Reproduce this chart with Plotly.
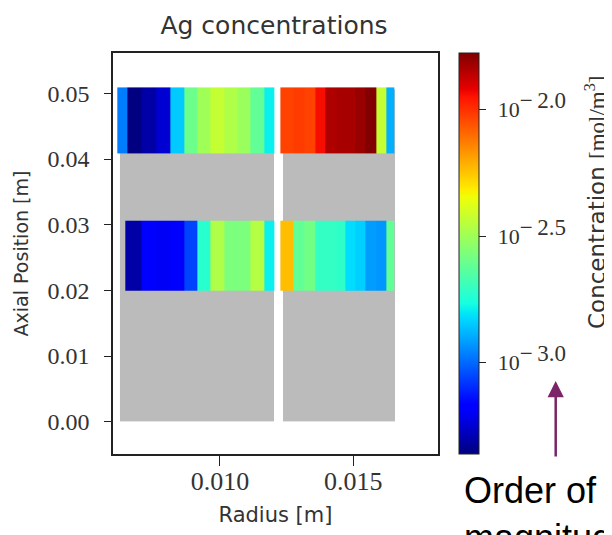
import plotly.graph_objects as go

# ---------------- data ----------------
# radial cell edges [m]
top_left_edges = [0.00615, 0.00654, 0.00706, 0.00763, 0.00815, 0.00865, 0.00915,
                  0.00965, 0.01015, 0.01065, 0.01115, 0.01165, 0.01204]
low_left_edges = [0.00645, 0.00706, 0.00763, 0.00815, 0.00865, 0.00915,
                  0.00965, 0.01015, 0.01065, 0.01115, 0.01165, 0.01204]
right_edges = [0.01225, 0.01274, 0.01315, 0.01356, 0.01394, 0.01435, 0.01469,
               0.01506, 0.01546, 0.01585, 0.01623, 0.01653]
# axial band edges [m]
top_band = [0.0409, 0.0509]
low_band = [0.0200, 0.0306]
# log10 concentration [mol/m^3]
top_left_logc = [-2.97, -3.36, -3.31, -3.25, -2.85, -2.60, -2.50, -2.43, -2.47, -2.51, -2.62, -2.79]
top_right_logc = [-2.03, -2.02, -2.03, -1.94, -1.84, -1.83, -1.83, -1.81, -1.78, -2.43, -2.89]
low_left_logc = [-3.31, -3.17, -3.20, -3.17, -3.06, -2.73, -2.47, -2.57, -2.57, -2.46, -2.79]
low_right_logc = [-2.24, -2.62, -2.59, -2.71, -2.71, -2.72, -2.82, -2.84, -2.92, -2.93, -2.62]
# domain (grey) regions
domain_x_edges = [0.00625, 0.01203, 0.01236, 0.01656]
domain_y_edges = [0.0, 0.0506]
domain_mask = [1, None, 1]
# colour scale range (log10)
cmin, cmax = -3.362, -1.776
cbar_tickvals = [-3.0, -2.5, -2.0]
cbar_exponents = ["3.0", "2.5", "2.0"]
x_tickvals = [0.010, 0.015]
x_ticktext = ["0.010", "0.015"]
y_tickvals = [0.00, 0.01, 0.02, 0.03, 0.04, 0.05]
y_ticktext = ["0.00", "0.01", "0.02", "0.03", "0.04", "0.05"]

cbar_ticktext = ['\u00a0\u200a10<sup><span style="font-size:23px">\u2212\u2009%s</span></sup>' % e
                 for e in cbar_exponents]

# ------------- matplotlib jet colourscale -------------
red = [(0, 0), (0.35, 0), (0.66, 1), (0.89, 1), (1, 0.5)]
green = [(0, 0), (0.125, 0), (0.375, 1), (0.64, 1), (0.91, 0), (1, 0)]
blue = [(0, 0.5), (0.11, 1), (0.34, 1), (0.65, 0), (1, 0)]


def interp(pts, t):
    for (t0, v0), (t1, v1) in zip(pts[:-1], pts[1:]):
        if t0 <= t <= t1:
            return v0 + (v1 - v0) * (t - t0) / (t1 - t0)
    return pts[-1][1]


stops = sorted(set([p[0] for p in red + green + blue]))
jet = [[t, "rgb(%d,%d,%d)" % (round(255 * interp(red, t)), round(255 * interp(green, t)),
                             round(255 * interp(blue, t)))] for t in stops]

# geometry: page has an 8px body margin
OFF = 8
W, H = 612 - OFF, 535 - OFF
ml, mt = 113 - OFF, 53 - OFF
mr = W - (438 - OFF)
mb = H - (454 - OFF)
pw, ph = W - ml - mr, H - mt - mb


def px_x(p):
    return (p - OFF - ml) / pw


def px_y(p):
    return (H - mb - (p - OFF)) / ph


fig = go.Figure()

fig.add_trace(go.Heatmap(
    x=domain_x_edges, y=domain_y_edges, z=[domain_mask],
    colorscale=[[0, "#bbbbbb"], [1, "#bbbbbb"]], showscale=False, hoverinfo="skip"))

top_x = top_left_edges + right_edges
top_z = top_left_logc + [None] + top_right_logc
low_x = low_left_edges + right_edges
low_z = low_left_logc + [None] + low_right_logc

cbar = dict(
    thickness=20, thicknessmode="pixels", len=1, lenmode="fraction",
    x=px_x(459), xanchor="left", xpad=0, y=0.5, yanchor="middle", ypad=0,
    outlinewidth=1, outlinecolor="#222",
    ticks="outside", ticklen=7, tickwidth=1, tickcolor="#222",
    tickvals=cbar_tickvals, ticktext=cbar_ticktext,
    tickfont=dict(family="Liberation Serif", size=22, color="#333"),
)

fig.add_trace(go.Heatmap(x=top_x, y=top_band, z=[top_z], colorscale=jet,
                         zmin=cmin, zmax=cmax, colorbar=cbar, showscale=True))
fig.add_trace(go.Heatmap(x=low_x, y=low_band, z=[low_z], colorscale=jet,
                         zmin=cmin, zmax=cmax, showscale=False))

axis_common = dict(showline=True, linecolor="#222", linewidth=1.5, mirror=True,
                   ticks="outside", tickcolor="#222", tickwidth=1.2,
                   showgrid=False, zeroline=False)

fig.update_xaxes(range=[0.005988, 0.018175], tickvals=x_tickvals, ticktext=x_ticktext,
                 ticklen=10, ticklabelstandoff=-7,
                 tickfont=dict(family="Liberation Serif", size=26, color="#333"),
                 title=dict(text="Radius [m]", standoff=12,
                            font=dict(family="DejaVu Sans", size=21, color="#333")),
                 **axis_common)
fig.update_yaxes(range=[-0.00492, 0.05614], tickvals=y_tickvals, ticktext=y_ticktext,
                 ticklen=7, ticklabelstandoff=10,
                 tickfont=dict(family="Liberation Serif", size=24, color="#333"),
                 title=dict(text="Axial Position [m]", standoff=14,
                            font=dict(family="DejaVu Sans", size=19, color="#333")),
                 **axis_common)

fig.add_annotation(text='Concentration <span style="font-family:Liberation Serif">[mol/m<sup>3</sup>]</span>',
                   textangle=-90,
                   xref="paper", yref="paper", x=px_x(595), y=px_y(203),
                   xanchor="center", yanchor="middle", showarrow=False,
                   font=dict(family="DejaVu Sans", size=23, color="#333"))

fig.add_annotation(text="", xref="paper", yref="paper", x=px_x(555.7), y=px_y(381),
                   ax=0, ay=77, showarrow=True, arrowhead=2, arrowsize=1.3,
                   arrowwidth=2.5, arrowcolor="#7b2468")

fig.add_annotation(text="Order of<br>magnitude", xref="paper", yref="paper",
                   x=px_x(462), y=px_y(468), xanchor="left", yanchor="top", align="left",
                   showarrow=False,
                   font=dict(family="Liberation Sans", size=36, color="black"))

fig.update_layout(
    width=W, height=H,
    margin=dict(l=ml, r=mr, t=mt, b=mb, autoexpand=False),
    paper_bgcolor="white", plot_bgcolor="white",
    title=dict(text="Ag concentrations", x=px_x(274), xanchor="center",
               y=1 - (25 - OFF) / H, yanchor="middle", xref="paper",
               font=dict(family="DejaVu Sans", size=25, color="#333")),
    showlegend=False,
)

fig.write_html("out.html")
